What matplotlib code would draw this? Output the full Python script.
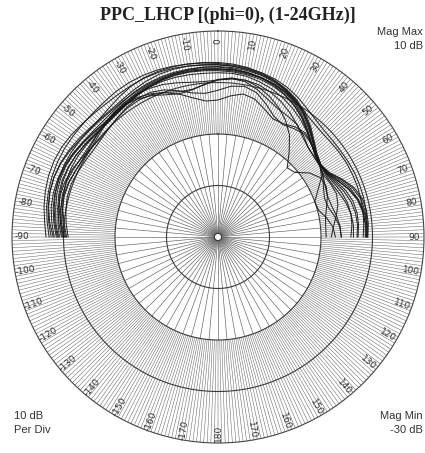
import numpy as np
import matplotlib
matplotlib.use("Agg")
import matplotlib.pyplot as plt

# Cut angles (deg, 0 = boresight, clockwise positive) and LHCP gain traces (dB)
angles = np.arange(-90, 91, 5)

trace_01 = [1.0, 1.6, 2.0, 2.4, 2.6, 2.6, 2.4, 2.0, 1.6, 1.2, 1.1, 1.3, 1.7, 2.1, 2.5, 2.8, 3.0, 3.1, 3.1,
            3.0, 2.8, 2.5, 2.0, 1.3, 0.4, -0.8, -2.2, -3.8, -5.0, -5.6, -5.2, -3.9, -2.6, -1.8, -1.4, -1.3, -1.4]
trace_02 = [0.4, 1.0, 1.6, 2.0, 2.2, 2.1, 1.8, 1.4, 1.0, 0.8, 0.9, 1.2, 1.6, 2.0, 2.3, 2.5, 2.6, 2.6, 2.5,
            2.4, 2.2, 2.0, 1.6, 1.0, 0.1, -1.1, -2.6, -4.0, -5.1, -5.7, -5.5, -4.6, -3.6, -2.9, -2.6, -2.6, -2.8]
trace_03 = [2.8, 3.3, 3.8, 4.1, 4.3, 4.4, 4.4, 4.3, 4.2, 4.2, 4.3, 4.5, 4.6, 4.6, 4.5, 4.3, 4.1, 3.9, 3.7,
            3.5, 3.3, 3.0, 2.6, 2.0, 1.2, 0.3, -0.4, -0.8, -0.9, -0.9, -0.8, -0.7, -0.7, -0.7, -0.8, -0.9, -1.0]
trace_04 = [-0.6, 0.0, 0.6, 1.1, 1.4, 1.5, 1.4, 1.2, 1.0, 0.9, 1.0, 1.3, 1.7, 2.0, 2.1, 2.1, 2.0, 1.9, 1.9,
            1.9, 1.7, 1.2, 0.6, -0.2, -1.1, -2.1, -3.2, -4.3, -5.2, -5.7, -5.9, -5.6, -5.0, -4.3, -3.8, -3.6, -3.7]
trace_05 = [0.8, 1.2, 1.5, 1.7, 1.6, 1.2, 0.6, 0.1, -0.2, -0.1, 0.3, 0.8, 1.1, 1.0, 0.4, -0.6, -1.6, -2.0, -1.5,
            -0.6, -0.3, -1.0, -2.6, -4.2, -4.8, -4.3, -3.9, -4.4, -5.3, -5.8, -6.5, -7.4, -8.0, -7.8, -7.0, -6.3, -6.0]
trace_06 = [2.0, 2.8, 3.4, 3.8, 3.9, 3.7, 3.3, 2.8, 2.5, 2.5, 2.8, 3.3, 3.8, 4.1, 4.2, 4.2, 4.1, 4.0, 3.9,
            3.7, 3.4, 2.9, 2.3, 1.5, 0.5, -0.8, -2.3, -3.8, -5.0, -5.6, -5.3, -4.2, -3.0, -2.0, -1.5, -1.2, -1.2]
trace_07 = [-0.2, 0.5, 1.0, 1.3, 1.3, 1.0, 0.7, 0.6, 0.8, 1.1, 1.4, 1.4, 1.0, 0.3, -0.6, -1.2, -1.0, -0.2, 0.6,
            1.0, 0.9, 0.2, -0.9, -2.2, -3.8, -5.8, -8.5, -11.0, -10.5, -8.3, -7.0, -6.8, -7.4, -8.2, -8.8, -9.0, -9.0]
trace_08 = [1.8, 2.4, 2.9, 3.1, 3.1, 2.9, 2.5, 2.1, 1.8, 1.7, 1.8, 2.1, 2.5, 2.8, 3.0, 3.1, 3.1, 3.1, 3.0,
            2.8, 2.5, 2.1, 1.6, 0.9, -0.1, -1.4, -2.9, -4.3, -5.3, -5.7, -5.1, -3.6, -2.2, -1.3, -1.0, -1.0, -1.2]
trace_09 = [-0.9, -0.4, 0.0, 0.3, 0.3, 0.0, -0.3, -0.5, -0.4, -0.1, 0.3, 0.6, 0.7, 0.5, -0.2, -1.3, -2.6, -3.5, -3.4,
            -2.5, -1.8, -2.3, -3.6, -4.7, -4.6, -3.9, -3.6, -4.3, -5.4, -5.9, -6.2, -5.8, -5.5, -5.9, -6.7, -7.5, -8.0]
trace_10 = [3.4, 3.8, 4.3, 4.7, 5.0, 5.1, 5.0, 4.7, 4.3, 4.0, 3.8, 3.8, 3.9, 4.0, 4.0, 3.9, 3.7, 3.5, 3.4,
            3.3, 3.1, 2.8, 2.3, 1.6, 0.7, -0.5, -2.0, -3.6, -4.9, -5.6, -5.4, -4.3, -2.9, -1.8, -1.2, -1.0, -1.1]
trace_11 = [1.2, 1.8, 2.3, 2.7, 2.9, 3.0, 2.9, 2.7, 2.4, 2.2, 2.1, 2.2, 2.4, 2.6, 2.8, 2.9, 2.9, 2.8, 2.7,
            2.6, 2.4, 2.1, 1.7, 1.1, 0.3, -0.5, -1.1, -1.4, -1.4, -1.3, -1.2, -1.2, -1.2, -1.3, -1.4, -1.6, -1.8]
trace_12 = [0.2, 0.7, 1.0, 1.1, 0.9, 0.5, 0.2, 0.1, 0.4, 0.9, 1.3, 1.5, 1.3, 0.7, -0.1, -0.8, -0.9, -0.3, 0.5,
            0.9, 0.6, -0.4, -1.6, -2.5, -2.9, -3.3, -4.2, -5.3, -5.7, -5.8, -6.8, -8.6, -10.0, -9.8, -8.6, -7.6, -7.2]
trace_13 = [0.0, 0.7, 1.3, 1.8, 2.0, 2.0, 1.8, 1.5, 1.2, 1.1, 1.2, 1.5, 1.9, 2.2, 2.4, 2.5, 2.5, 2.4, 2.3,
            2.2, 2.0, 1.7, 1.2, 0.5, -0.5, -1.7, -3.1, -4.4, -5.3, -5.7, -5.6, -4.9, -4.0, -3.3, -2.9, -2.8, -3.0]
trace_14 = [2.4, 3.0, 3.5, 3.8, 3.9, 3.8, 3.5, 3.1, 2.7, 2.4, 2.3, 2.5, 2.9, 3.3, 3.6, 3.7, 3.7, 3.6, 3.5,
            3.3, 3.0, 2.6, 2.1, 1.4, 0.4, -0.9, -2.4, -3.9, -5.0, -5.6, -5.0, -3.4, -1.9, -1.0, -0.7, -0.7, -0.9]
trace_15 = [1.4, 2.0, 2.5, 2.8, 2.9, 2.7, 2.3, 1.9, 1.5, 1.3, 1.4, 1.7, 2.1, 2.4, 2.6, 2.7, 2.7, 2.6, 2.6,
            2.6, 2.4, 2.0, 1.4, 0.6, -0.4, -1.6, -3.0, -4.4, -5.3, -5.7, -5.7, -5.2, -4.5, -4.0, -3.8, -3.9, -4.2]
trace_16 = [-0.4, 0.2, 0.7, 0.9, 0.8, 0.5, 0.3, 0.4, 0.7, 1.1, 1.5, 1.8, 1.9, 1.8, 1.5, 1.0, 0.5, 0.3, 0.5,
            0.8, 0.9, 0.6, -0.1, -1.0, -2.1, -3.3, -4.5, -5.3, -5.7, -5.9, -6.4, -7.0, -7.3, -7.1, -6.6, -6.2, -6.1]

traces = [trace_01, trace_02, trace_03, trace_04, trace_05, trace_06, trace_07, trace_08,
          trace_09, trace_10, trace_11, trace_12, trace_13, trace_14, trace_15, trace_16]

mag_min, mag_max, per_div = -30, 10, 10
tick_angles = np.arange(-170, 181, 10)

GRID = "#5e5e5e"
TEXT = "#333333"

fig = plt.figure(figsize=(4.25, 4.53), dpi=100, facecolor="white")
ax = fig.add_axes([12 / 425, 10 / 453, 412 / 425, 412 / 453], projection="polar")
ax.set_theta_zero_location("N")
ax.set_theta_direction(-1)
ax.set_ylim(mag_min, mag_max)
ax.set_xticks([])
ax.set_yticks([])
ax.grid(False)
ax.spines["polar"].set_color("#444444")
ax.spines["polar"].set_linewidth(0.8)

# radial spokes: coarse near the centre, every degree further out
hub = mag_min + 0.7
ax.vlines(np.deg2rad(np.arange(0, 360, 5)), hub, -10, colors=GRID, linewidth=0.45)
ax.vlines(np.deg2rad(np.arange(0, 360, 1)), -10, mag_max, colors=GRID, linewidth=0.35)

# magnitude rings
ring = np.linspace(0, 2 * np.pi, 721)
for lvl in range(mag_min + per_div, mag_max, per_div):
    ax.plot(ring, np.full_like(ring, lvl), color="#3a3a3a", linewidth=0.8)
ax.plot(ring, np.full_like(ring, hub), color="#3a3a3a", linewidth=0.8)

# pattern traces
th = np.deg2rad(angles)
for tr in traces:
    ax.plot(th, tr, color="#161616", linewidth=0.75, alpha=0.9)

# angle labels along the outer band, oriented radially
for a in tick_angles:
    rot = 90 - a
    while rot > 90:
        rot -= 180
    while rot <= -90:
        rot += 180
    ax.text(np.deg2rad(a), 8.1, str(a), fontsize=6.5, color=TEXT,
            rotation=rot, rotation_mode="anchor", ha="center", va="center")

fig.text(0.535, 0.966, "PPC_LHCP [(phi=0), (1-24GHz)]", family="Liberation Serif",
         fontweight="bold", fontsize=13, color="#222222", ha="center", va="center")
fig.text(0.995, 0.915, "Mag Max\n10 dB", family="Liberation Sans", fontsize=8,
         color=TEXT, ha="right", va="center", multialignment="right", linespacing=1.5)
fig.text(0.033, 0.066, "10 dB\nPer Div", family="Liberation Sans", fontsize=8,
         color=TEXT, ha="left", va="center", multialignment="left", linespacing=1.5)
fig.text(0.995, 0.066, "Mag Min\n-30 dB", family="Liberation Sans", fontsize=8,
         color=TEXT, ha="right", va="center", multialignment="right", linespacing=1.5)

fig.savefig("out.png", dpi=100, facecolor="white")
